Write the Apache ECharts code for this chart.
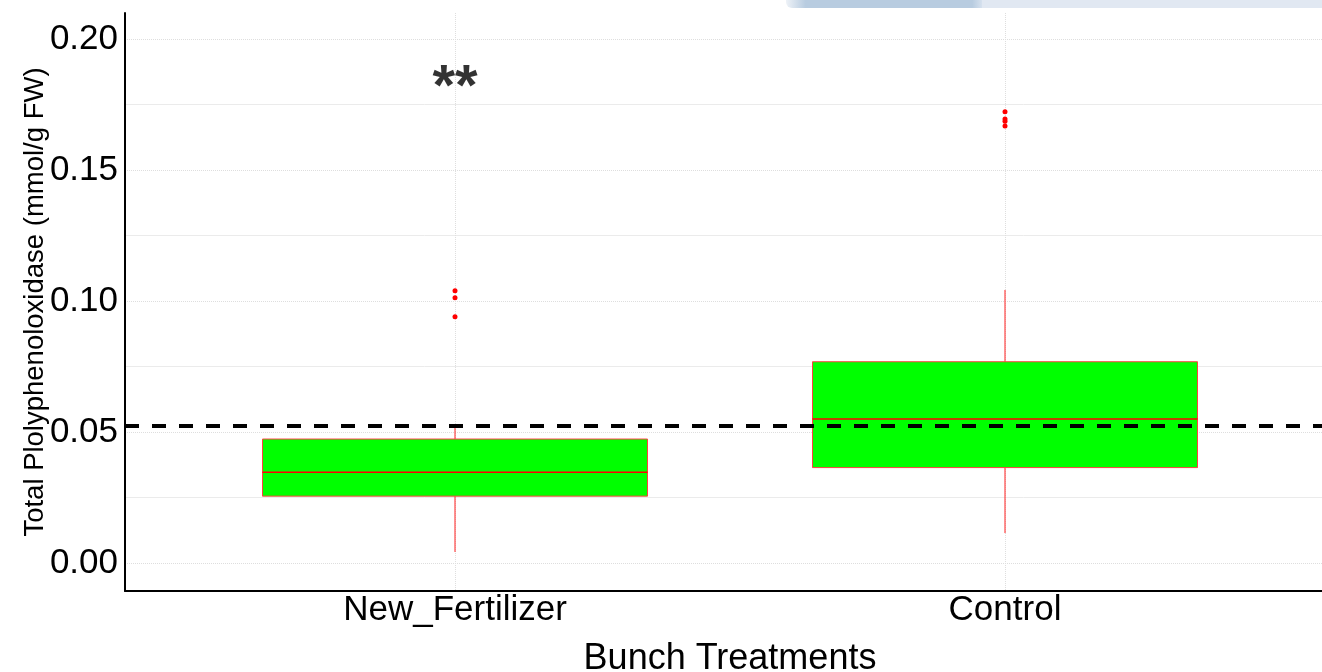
<!DOCTYPE html>
<html>
<head>
<meta charset="utf-8">
<script src="https://cdn.jsdelivr.net/npm/echarts@6/dist/echarts.min.js"></script>
<style>
html,body{margin:0;padding:0;background:#fff;}
#chart{width:1322px;height:672px;}
</style>
</head>
<body>
<div id="chart"></div>
<script>
// values
var categories = ['New_Fertilizer', 'Control'];
var boxMin = [0.0043, 0.0115];
var boxQ1 = [0.0256, 0.0365];
var boxMedian = [0.0347, 0.0550];
var boxQ3 = [0.0474, 0.0769];
var boxMax = [0.0530, 0.1043];
var outliersNewFertilizer = [0.1040, 0.1013, 0.0941];
var outliersControl = [0.1723, 0.1695, 0.1687, 0.1669];
var refLine = 0.0525;
var yTicks = [0, 0.05, 0.10, 0.15, 0.20];
var yMinorTicks = [0.025, 0.075, 0.125, 0.175];
var signifLabel = '**';
var signifY = 0.181;

var font = '"Liberation Sans", Arial, sans-serif';

var boxData = [];
for (var i = 0; i < categories.length; i++) {
	boxData.push([i + 1, boxMin[i], boxQ1[i], boxMedian[i], boxQ3[i], boxMax[i]]);
}
var outlierData = [];
outliersNewFertilizer.forEach(function (v) { outlierData.push([1, v]); });
outliersControl.forEach(function (v) { outlierData.push([2, v]); });

var chart = echarts.init(document.getElementById('chart'));

var option = {
	backgroundColor: '#fff',
	animation: false,
	textStyle: { fontFamily: font },
	grid: { left: 125, top: 13, width: 1210, bottom: 81, containLabel: false, outerBoundsMode: 'none' },
	xAxis: {
		type: 'value',
		min: 0.4,
		max: 2.6,
		name: 'Bunch Treatments',
		nameLocation: 'middle',
		nameGap: 50,
		nameMoveOverlap: false,
		nameTextStyle: { fontSize: 36, color: '#000', fontFamily: font },
		axisLine: { show: true, onZero: false, lineStyle: { color: '#000', width: 2 } },
		axisTick: { show: false, customValues: [1, 2] },
		axisLabel: {
			customValues: [1, 2],
			formatter: function (v) { return categories[Math.round(v) - 1]; },
			fontSize: 35,
			color: '#000',
			margin: 2,
			fontFamily: font
		},
		splitLine: { show: true, lineStyle: { color: '#dedede', type: 'dotted', width: 1 } }
	},
	yAxis: [
		{
			type: 'value',
			min: -0.0106,
			max: 0.21,
			name: 'Total Plolyphenoloxidase (mmol/g FW)',
			nameLocation: 'middle',
			nameGap: 76,
			nameMoveOverlap: false,
			nameTextStyle: { fontSize: 27.5, color: '#000', fontFamily: font },
			axisLine: { show: true, onZero: false, lineStyle: { color: '#000', width: 2 } },
			axisTick: { show: false, customValues: yTicks },
			axisLabel: {
				customValues: yTicks,
				formatter: function (v) { return v.toFixed(2); },
				fontSize: 35,
				color: '#000',
				margin: 7,
				fontFamily: font
			},
			splitLine: { show: true, lineStyle: { color: '#dedede', type: 'dotted', width: 1 } }
		},
		{
			// minor grid lines
			type: 'value',
			min: -0.0106,
			max: 0.21,
			position: 'left',
			axisLine: { show: false },
			axisTick: { show: false, customValues: yMinorTicks },
			axisLabel: { show: false, customValues: yMinorTicks },
			splitLine: { show: true, lineStyle: { color: '#ebebeb', type: 'solid', width: 1 } }
		}
	],
	graphic: [
		{
			type: 'rect', z: 100,
			shape: { x: 980, y: 0, width: 342, height: 8 },
			style: { fill: '#e1e8f2' }
		},
		{
			type: 'rect', z: 100,
			shape: { x: 786, y: 0, width: 196, height: 8, r: [0, 0, 0, 6] },
			style: {
				fill: new echarts.graphic.LinearGradient(0, 0, 1, 0, [
					{ offset: 0, color: '#eef2f7' },
					{ offset: 0.1, color: '#b8cce0' },
					{ offset: 0.95, color: '#b8cce0' },
					{ offset: 1, color: '#d6e1ee' }
				])
			}
		}
	],
	series: [
		{
			type: 'custom',
			name: 'box',
			data: boxData,
			encode: { x: 0, y: [1, 2, 3, 4, 5] },
			z: 3,
			renderItem: function (params, api) {
				var x = api.value(0);
				var pMin = api.coord([x, api.value(1)]);
				var pQ1 = api.coord([x, api.value(2)]);
				var pMed = api.coord([x, api.value(3)]);
				var pQ3 = api.coord([x, api.value(4)]);
				var pMax = api.coord([x, api.value(5)]);
				var w = api.size([0.7, 0])[0];
				var left = pQ1[0] - w / 2;
				return {
					type: 'group',
					children: [
						{ type: 'line', shape: { x1: pMin[0], y1: pMin[1], x2: pQ1[0], y2: pQ1[1] }, style: { stroke: '#ff2020', lineWidth: 1 } },
						{ type: 'line', shape: { x1: pQ3[0], y1: pQ3[1], x2: pMax[0], y2: pMax[1] }, style: { stroke: '#ff2020', lineWidth: 1 } },
						{ type: 'rect', shape: { x: left, y: pQ3[1], width: w, height: pQ1[1] - pQ3[1] }, style: { fill: '#00ff00', stroke: '#ff4040', lineWidth: 1 } },
						{ type: 'line', shape: { x1: left, y1: pMed[1], x2: left + w, y2: pMed[1] }, style: { stroke: '#ff0000', lineWidth: 1.5 } }
					]
				};
			}
		},
		{
			type: 'scatter',
			name: 'outliers',
			data: outlierData,
			symbolSize: 5,
			itemStyle: { color: '#ff0000', opacity: 1 },
			z: 4,
			markLine: {
				silent: true,
				symbol: 'none',
				precision: 4,
				label: { show: false },
				lineStyle: { color: '#000', width: 4, type: [14, 13], opacity: 1 },
				data: [{ yAxis: refLine }]
			}
		},
		{
			type: 'scatter',
			name: 'signif',
			data: [[1, signifY]],
			symbolSize: 0,
			silent: true,
			label: {
				show: true,
				position: 'inside',
				formatter: signifLabel,
				fontSize: 58,
				fontWeight: 'bold',
				color: '#000',
				textBorderWidth: 0,
				fontFamily: font
			}
		}
	]
};

chart.setOption(option);
</script>
</body>
</html>
